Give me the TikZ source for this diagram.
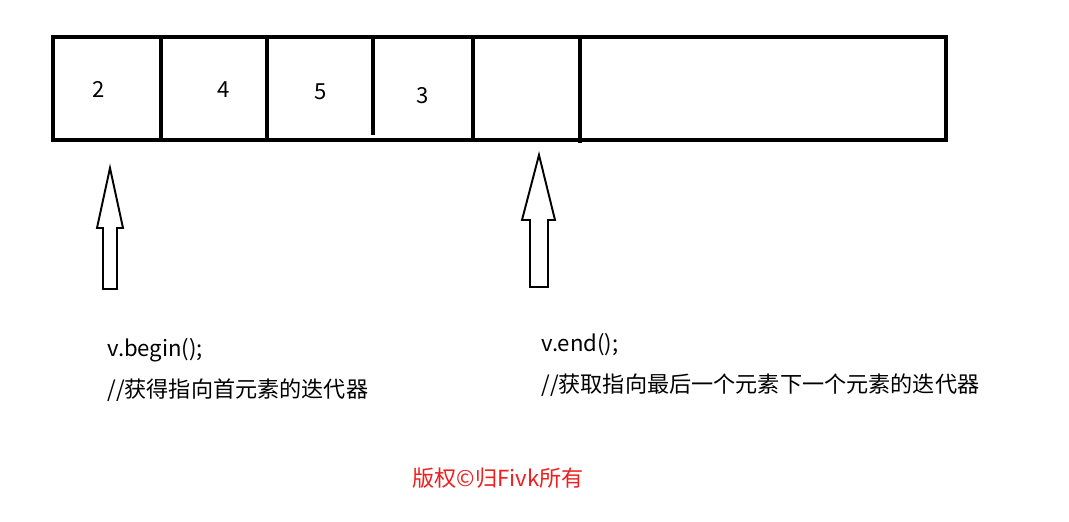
\documentclass[tikz,border=0pt]{standalone}
\usepackage{fontspec}
\setmainfont{Noto Sans CJK SC}
\usetikzlibrary{positioning}
\definecolor{copyred}{RGB}{240,30,30}

\begin{document}
\begin{tikzpicture}[x=0.02cm,y=-0.02cm]
\tikzstyle{every node}+=[inner sep=0pt]
\tikzstyle{wall}=[line width=1.8pt]
\tikzstyle{uparrow}=[line width=1.1pt, line join=miter]
\tikzstyle{note}=[anchor=west, font=\fontsize{12.6}{15}\selectfont]
\useasboundingbox (0,0) rectangle (1069,521);
% the vector
\draw [wall] (53,37) rectangle (946,140);
\draw [wall] (161,37) -- (161,140);
\draw [wall] (267,37) -- (267,140);
\draw [wall] (373,37) -- (373,135);
\draw [wall] (473,37) -- (473,140);
\draw [wall] (580,37) -- (580,143);
\draw (99,89) node [font=\fontsize{12.6}{15}\selectfont] (e2) {2};
\draw (224,90) node [font=\fontsize{12.6}{15}\selectfont] (e4) {4};
\draw (321,92) node [font=\fontsize{12.6}{15}\selectfont] (e5) {5};
\draw (423,96) node [font=\fontsize{12.6}{15}\selectfont] (e3) {3};
% begin
\draw [uparrow] (110,168) -- (123,228) -- (117,228) -- (117,289) -- (103,289) -- (103,228) -- (97,228) -- cycle;
\draw (107,350) node [note] (begincall) {v.begin();};
\draw (107,390) node [note] (begintext) {//获得指向首元素的迭代器};
% end
\draw [uparrow] (539,155) -- (555,220) -- (548,220) -- (548,287) -- (530,287) -- (530,220) -- (522,220) -- cycle;
\draw (541,345) node [note] (endcall) {v.end();};
\draw (541,385) node [note] (endtext) {//获取指向最后一个元素下一个元素的迭代器};
\draw (498,478) node [font=\fontsize{12.6}{15}\selectfont, text=copyred] (copy) {版权©归Fivk所有};
\end{tikzpicture}
\end{document}
